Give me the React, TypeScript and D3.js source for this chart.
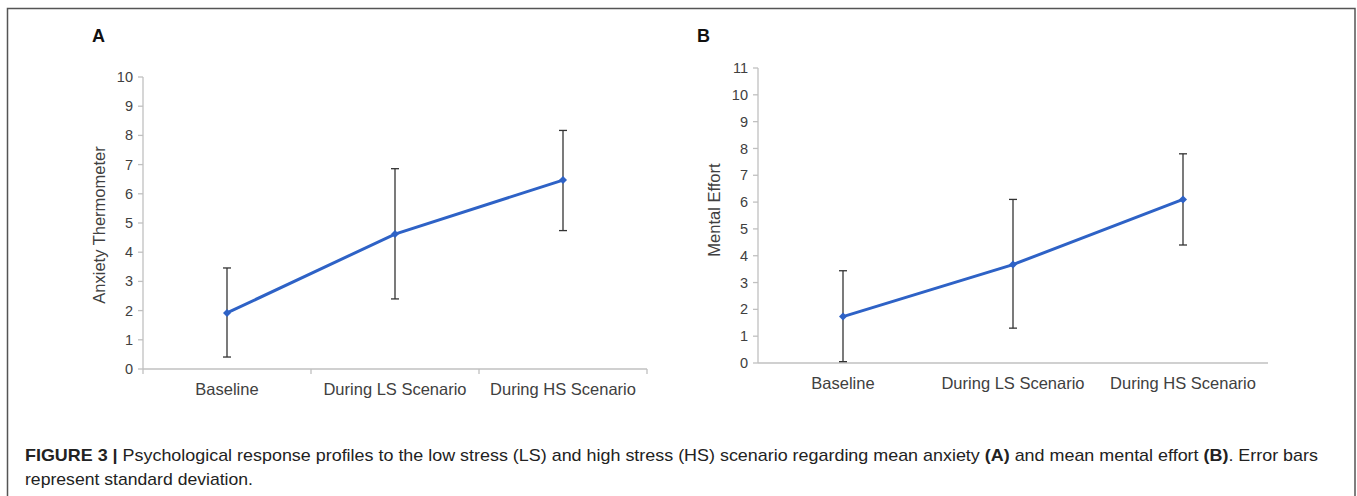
import React from "react";
import * as d3 from "d3";

const categories = ["Baseline", "During LS Scenario", "During HS Scenario"];
const anxietyMean = [1.92, 4.62, 6.47];
const anxietyUpper = [3.46, 6.86, 8.17];
const anxietyLower = [0.41, 2.40, 4.74];
const effortMean = [1.73, 3.67, 6.1];
const effortUpper = [3.44, 6.1, 7.8];
const effortLower = [0.05, 1.3, 4.4];
const anxietyTicks = d3.range(0, 11);
const effortTicks = d3.range(0, 12);

const FONT = "'Liberation Sans', Arial, sans-serif";
const CAPTION_FONT = "'Liberation Sans Narrow', 'Arial Narrow', 'Liberation Sans', Arial, sans-serif";

type PanelProps = {
  letter: string;
  letterX: number;
  x0: number;
  x1: number;
  yTop: number;
  yBottom: number;
  maxY: number;
  ticks: number[];
  mean: number[];
  upper: number[];
  lower: number[];
  yLabel: string;
  yLabelX: number;
  yLabelY: number;
  xTickMarks: boolean;
  catLabelY: number;
};

function Panel(p: PanelProps) {
  const x = d3.scaleBand<string>().domain(categories).range([p.x0, p.x1]).padding(0);
  const y = d3.scaleLinear().domain([0, p.maxY]).range([p.yBottom, p.yTop]);
  const cx = (c: string) => (x(c) as number) + x.bandwidth() / 2;
  const line = d3
    .line<number>()
    .x((_, i) => cx(categories[i]))
    .y((d) => y(d));
  const axisColor = "#c0c0c0";
  const boundaries = categories.map((c) => x(c) as number).concat([p.x1]);
  return (
    <g>
      <text x={p.letterX} y={42} fontFamily={FONT} fontWeight="bold" fontSize={18} fill="#111">
        {p.letter}
      </text>
      <line x1={p.x0} x2={p.x0} y1={p.yTop} y2={p.yBottom} stroke={axisColor} strokeWidth={1.3} />
      {p.ticks.map((t) => (
        <g key={t}>
          <line x1={p.x0 - 5} x2={p.x0} y1={y(t)} y2={y(t)} stroke={axisColor} strokeWidth={1.3} />
          <text
            x={p.x0 - 10}
            y={y(t)}
            dy="0.35em"
            textAnchor="end"
            fontFamily={FONT}
            fontSize={14.5}
            fill="#404040"
          >
            {t}
          </text>
        </g>
      ))}
      <line x1={p.x0} x2={p.x1} y1={p.yBottom} y2={p.yBottom} stroke={axisColor} strokeWidth={1.3} />
      {p.xTickMarks &&
        boundaries.map((b, i) => (
          <line key={i} x1={b} x2={b} y1={p.yBottom} y2={p.yBottom + 5} stroke={axisColor} strokeWidth={1.3} />
        ))}
      {categories.map((c) => (
        <text
          key={c}
          x={cx(c)}
          y={p.catLabelY}
          dy="0.35em"
          textAnchor="middle"
          fontFamily={FONT}
          fontSize={16.5}
          fill="#404040"
        >
          {c}
        </text>
      ))}
      <text
        transform={`translate(${p.yLabelX},${p.yLabelY}) rotate(-90)`}
        textAnchor="middle"
        dy="0.35em"
        fontFamily={FONT}
        fontSize={16.5}
        fill="#404040"
      >
        {p.yLabel}
      </text>
      {categories.map((c, i) => (
        <g key={c} stroke="#333" strokeWidth={1.3}>
          <line x1={cx(c)} x2={cx(c)} y1={y(p.upper[i])} y2={y(p.lower[i])} />
          <line x1={cx(c) - 4} x2={cx(c) + 4} y1={y(p.upper[i])} y2={y(p.upper[i])} />
          <line x1={cx(c) - 4} x2={cx(c) + 4} y1={y(p.lower[i])} y2={y(p.lower[i])} />
        </g>
      ))}
      <path d={line(p.mean) || ""} fill="none" stroke="#2e62c6" strokeWidth={3} />
      {categories.map((c, i) => {
        const px = cx(c);
        const py = y(p.mean[i]);
        const s = 4;
        return (
          <path
            key={c}
            d={`M${px},${py - s}L${px + s},${py}L${px},${py + s}L${px - s},${py}Z`}
            fill="#2e62c6"
          />
        );
      })}
    </g>
  );
}

export default function App() {
  return (
    <svg
      width={1357}
      height={496}
      style={{ position: "absolute", left: 0, top: 0, display: "block", background: "#fff" }}
    >
      <rect x={0} y={0} width={1357} height={496} fill="#fff" />
      <path d="M7.5,520 L7.5,8.5 L1355,8.5 L1355,520" fill="none" stroke="#555" strokeWidth={1.5} />
      <Panel
        letter="A"
        letterX={92}
        x0={143}
        x1={647}
        yTop={77}
        yBottom={369}
        maxY={10}
        ticks={anxietyTicks}
        mean={anxietyMean}
        upper={anxietyUpper}
        lower={anxietyLower}
        yLabel="Anxiety Thermometer"
        yLabelX={99}
        yLabelY={225}
        xTickMarks={true}
        catLabelY={389}
      />
      <Panel
        letter="B"
        letterX={697}
        x0={758}
        x1={1268}
        yTop={68}
        yBottom={363}
        maxY={11}
        ticks={effortTicks}
        mean={effortMean}
        upper={effortUpper}
        lower={effortLower}
        yLabel="Mental Effort"
        yLabelX={714}
        yLabelY={210}
        xTickMarks={false}
        catLabelY={383}
      />
      <text x={25} y={461} fontFamily={CAPTION_FONT} fontSize={17} fill="#222" textLength={1293} lengthAdjust="spacingAndGlyphs">
        <tspan fontWeight="bold">FIGURE 3 | </tspan>
        <tspan>
          Psychological response profiles to the low stress (LS) and high stress (HS) scenario regarding mean anxiety{" "}
        </tspan>
        <tspan fontWeight="bold">(A)</tspan>
        <tspan> and mean mental effort </tspan>
        <tspan fontWeight="bold">(B)</tspan>
        <tspan>. Error bars</tspan>
      </text>
      <text x={25} y={485} fontFamily={CAPTION_FONT} fontSize={17} fill="#222" textLength={228} lengthAdjust="spacingAndGlyphs">
        represent standard deviation.
      </text>
    </svg>
  );
}
